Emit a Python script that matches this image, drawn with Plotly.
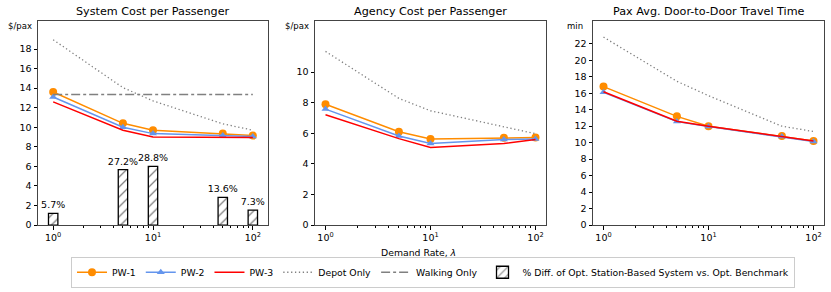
import numpy as np
import plotly.graph_objects as go

lam = [1, 5, 10, 50, 100]

# System cost per passenger ($/pax)
sys_pw1 = [13.6, 10.4, 9.7, 9.35, 9.15]
sys_pw2 = [13.1, 10.0, 9.35, 9.15, 9.05]
sys_pw3 = [12.6, 9.7, 9.0, 8.95, 8.95]
sys_depot = [18.95, 14.05, 12.7, 10.35, 9.7]
sys_walk = [13.35, 13.35, 13.35, 13.35, 13.35]
bar_heights = [1.19, 5.67, 6.0, 2.83, 1.52]
bar_labels = ["5.7%", "27.2%", "28.8%", "13.6%", "7.3%"]

# Agency cost per passenger ($/pax)
ag_pw1 = [7.9, 6.1, 5.63, 5.7, 5.72]
ag_pw2 = [7.58, 5.82, 5.33, 5.59, 5.62]
ag_pw3 = [7.21, 5.65, 5.07, 5.33, 5.59]
ag_depot = [11.35, 8.28, 7.47, 6.4, 5.97]

# Pax avg door-to-door travel time (min)
tt_pw1 = [16.8, 13.19, 12.0, 10.8, 10.2]
tt_pw2 = [16.1, 12.55, 11.95, 10.75, 10.15]
tt_pw3 = [16.17, 12.6, 12.0, 10.8, 10.2]
tt_depot = [22.8, 17.44, 15.7, 12.0, 11.35]

titles = ["System Cost per Passenger", "Agency Cost per Passenger",
          "Pax Avg. Door-to-Door Travel Time"]
units = ["$/pax", "$/pax", "min"]
yticks = [list(range(0, 19, 2)), list(range(0, 11, 2)), list(range(0, 23, 2))]
yranges = [[0, 20.9], [0, 13.36], [0, 24.8]]
xranges = [[-0.152, 2.152], [-0.1, 2.1], [-0.1, 2.1]]

FONT = "DejaVu Sans"
W, H = 831, 292
boxes = [(38, 268), (315, 546), (593, 824)]
ytop, ybot = 21, 229

C1 = "#ff8c00"
C2 = "#6495ed"
C3 = "#ff0000"
GR = "#808080"
DOT = "1.3px,2.6px"

fig = go.Figure()

def add_lines(i, pw1, pw2, pw3, depot, walk=None, legend=False):
    xa = "x" if i == 0 else f"x{i+1}"
    ya = "y" if i == 0 else f"y{i+1}"
    fig.add_trace(go.Scatter(x=lam, y=pw1, mode="lines+markers", name="PW-1",
                             line=dict(color=C1, width=1.5),
                             marker=dict(symbol="circle", size=8, color=C1),
                             xaxis=xa, yaxis=ya, showlegend=legend, legendrank=1))
    fig.add_trace(go.Scatter(x=lam, y=pw2, mode="lines+markers", name="PW-2",
                             line=dict(color=C2, width=1.5),
                             marker=dict(symbol="triangle-up", size=7, color=C2),
                             xaxis=xa, yaxis=ya, showlegend=legend, legendrank=2))
    fig.add_trace(go.Scatter(x=lam, y=pw3, mode="lines", name="PW-3",
                             line=dict(color=C3, width=1.5),
                             xaxis=xa, yaxis=ya, showlegend=legend, legendrank=3))
    fig.add_trace(go.Scatter(x=lam, y=depot, mode="lines", name="Depot Only",
                             line=dict(color=GR, width=1.3, dash=DOT),
                             xaxis=xa, yaxis=ya, showlegend=legend, legendrank=4))
    if walk is not None:
        fig.add_trace(go.Scatter(x=lam, y=walk, mode="lines", name="Walking Only",
                                 line=dict(color=GR, width=1.3, dash="dashdot"),
                                 xaxis=xa, yaxis=ya, showlegend=legend, legendrank=5))

add_lines(0, sys_pw1, sys_pw2, sys_pw3, sys_depot, sys_walk, legend=True)
add_lines(1, ag_pw1, ag_pw2, ag_pw3, ag_depot)
add_lines(2, tt_pw1, tt_pw2, tt_pw3, tt_depot)

# bars on an overlaid linear axis in log10 units
fig.add_trace(go.Bar(x=np.log10(lam), y=bar_heights, width=0.094,
                     name="% Diff. of Opt. Station-Based System vs. Opt. Benchmark",
                     text=bar_labels, textposition="outside", cliponaxis=False,
                     constraintext="none",
                     textfont=dict(family=FONT, size=9.5, color="black"),
                     marker=dict(color="white", line=dict(color="black", width=1.3),
                                 pattern=dict(shape="/", fgcolor="black", bgcolor="white",
                                              size=7, solidity=0.18)),
                     xaxis="x4", yaxis="y", showlegend=True, legendrank=6))

layout = dict(
    width=W, height=H, margin=dict(l=0, r=0, t=0, b=0),
    paper_bgcolor="white", plot_bgcolor="white",
    font=dict(family=FONT, size=9.3, color="black"),
    barmode="overlay",
)
annotations = []
for i, (x0, x1) in enumerate(boxes):
    sfx = "" if i == 0 else str(i + 1)
    dom = [x0 / W, x1 / W]
    layout["xaxis" + sfx] = dict(
        type="log", domain=dom, range=xranges[i],
        tickvals=[1, 10, 100],
        ticktext=["10<sup>0</sup>", "10<sup>1</sup>", "10<sup>2</sup>"],
        ticks="outside", ticklen=3.5, tickwidth=0.8, tickcolor="black",
        showline=True, mirror=True, linecolor="#444", linewidth=1,
        showgrid=False, zeroline=False, tickfont=dict(size=9.5),
        minor=dict(tickvals=[2, 3, 4, 5, 6, 7, 8, 9, 20, 30, 40, 50, 60, 70, 80, 90],
                   ticks="outside", ticklen=2, tickwidth=0.6, tickcolor="black",
                   showgrid=False),
        anchor="y" + sfx,
    )
    layout["yaxis" + sfx] = dict(
        domain=[(H - ybot) / H, (H - ytop) / H], range=yranges[i],
        tickvals=yticks[i], ticks="outside", ticklen=3.5, tickwidth=0.8,
        tickcolor="black", showline=True, mirror=True, linecolor="#444",
        linewidth=1, showgrid=False, zeroline=False, tickfont=dict(size=9.5),
        anchor="x" + sfx,
    )
    annotations.append(dict(text=titles[i], x=(x0 + x1) / 2 / W, y=1 - 11.5 / H,
                            xref="paper", yref="paper", showarrow=False,
                            font=dict(size=11.2), xanchor="center", yanchor="middle"))
    annotations.append(dict(text=units[i], x=(x0 - 18) / W, y=1 - 26 / H,
                            xref="paper", yref="paper", showarrow=False,
                            font=dict(size=8.5), xanchor="center", yanchor="middle"))
annotations.append(dict(text="Demand Rate, <i>λ</i>", x=418 / W, y=1 - 257 / H,
                        xref="paper", yref="paper", showarrow=False,
                        font=dict(size=9.3), xanchor="center", yanchor="middle"))
layout["xaxis4"] = dict(domain=[boxes[0][0] / W, boxes[0][1] / W], range=xranges[0],
                        overlaying="x", visible=False, anchor="y")
layout["annotations"] = annotations
layout["legend"] = dict(orientation="h", x=433 / W, y=1 - 277 / H, xanchor="center",
                        yanchor="middle", bordercolor="#cccccc", borderwidth=1,
                        font=dict(size=9.3), bgcolor="white", itemwidth=30,
                        tracegroupgap=0, traceorder="normal")
fig.update_layout(**layout)
fig.write_html("out.html", config={"displayModeBar": False},
               post_script="document.body.style.margin='0px';document.body.style.overflow='hidden';")
